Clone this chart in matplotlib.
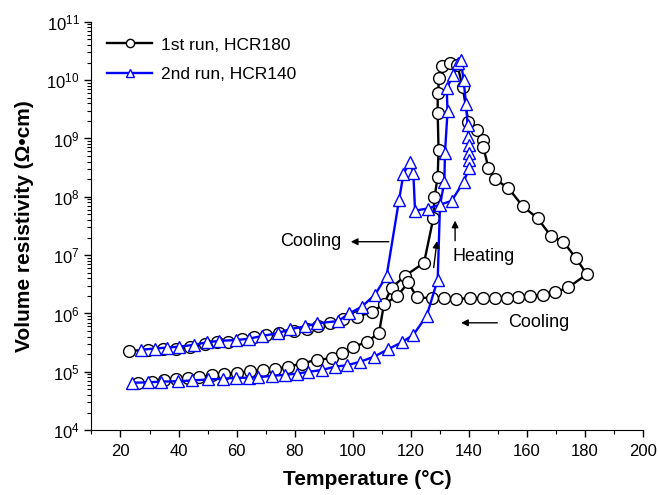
import numpy as np
import matplotlib
matplotlib.use("Agg")
import matplotlib.pyplot as plt

plt.rcParams['font.family'] = ['Liberation Sans', 'DejaVu Sans']
plt.rcParams['mathtext.fontset'] = 'custom'
plt.rcParams['mathtext.rm'] = 'Liberation Sans'
plt.rcParams['font.size'] = 12

# === 1st run, HCR180 ===
t1_heat = [26.1, 30.7, 34.9, 39.3, 43.3, 47.1, 51.4, 55.6, 60.0, 64.6, 69.0, 73.2,
           77.8, 82.4, 87.8, 92.8, 96.2, 100.2, 104.8, 109.1, 110.8, 113.4, 118.0,
           124.6, 127.8, 128.2, 129.3, 129.6, 129.3, 129.3, 129.9, 130.7, 133.6,
           136.1, 137.9, 139.9, 142.8, 144.8, 145.0, 146.8, 149.1, 153.7, 158.6,
           163.7, 168.4, 172.6, 176.9, 180.7]
r1_heat = [6.5e4, 6.8e4, 7.1e4, 7.4e4, 7.8e4, 8.1e4, 8.7e4, 9.1e4, 9.5e4, 1.02e5, 1.07e5, 1.12e5,
           1.23e5, 1.38e5, 1.62e5, 1.7e5, 2.1e5, 2.7e5, 3.2e5, 4.7e5, 1.45e6, 2.75e6, 4.4e6,
           7.4e6, 4.3e7, 9.8e7, 2.2e8, 6.3e8, 2.75e9, 6.0e9, 1.07e10, 1.74e10, 1.95e10,
           1.8e10, 7.6e9, 1.9e9, 1.4e9, 9.3e8, 7.2e8, 3.1e8, 2.0e8, 1.4e8, 6.9e7,
           4.3e7, 2.1e7, 1.7e7, 8.9e6, 4.7e6]
t1_cool = [174.3, 169.8, 165.5, 161.1, 157.1, 153.1, 149.1, 144.8, 140.4, 135.6, 131.4,
           127.2, 122.1, 119.2, 115.4, 106.6, 101.6, 96.8, 92.2, 88.1, 84.1, 79.8, 74.7,
           70.3, 66.1, 61.7, 57.1, 53.4, 49.1, 44.1, 39.1, 34.7, 29.5, 23.0]
r1_cool = [2.8e6, 2.3e6, 2.1e6, 2.0e6, 1.9e6, 1.86e6, 1.82e6, 1.82e6, 1.82e6, 1.78e6, 1.82e6,
           1.82e6, 1.9e6, 3.4e6, 2.0e6, 1.07e6, 8.7e5, 7.9e5, 6.9e5, 6.0e5, 5.5e5, 5.0e5, 4.7e5,
           4.3e5, 4.0e5, 3.7e5, 3.2e5, 3.2e5, 2.95e5, 2.7e5, 2.5e5, 2.45e5, 2.35e5, 2.3e5]

# === 2nd run, HCR140 ===
t2_heat = [24.1, 29.5, 34.1, 39.9, 44.5, 50.2, 55.2, 59.8, 64.3, 67.4, 72.1, 76.7,
           80.7, 84.7, 89.3, 93.9, 97.9, 102.5, 107.4, 112.3, 116.9, 120.9, 125.5,
           129.3, 130.1, 131.6, 131.8, 132.7, 132.4, 134.7, 136.4, 137.3]
r2_heat = [6.5e4, 6.6e4, 6.8e4, 6.9e4, 7.1e4, 7.4e4, 7.6e4, 7.9e4, 7.9e4, 8.1e4, 8.5e4, 8.9e4,
           9.3e4, 1.0e5, 1.07e5, 1.23e5, 1.29e5, 1.48e5, 1.82e5, 2.45e5, 3.2e5, 4.3e5, 9.1e5,
           3.8e6, 7.2e7, 1.8e8, 5.6e8, 2.9e9, 7.2e9, 1.23e10, 1.95e10, 2.2e10]
t2_cool = [138.2, 139.1, 139.6, 139.9, 140.1, 140.1, 140.2, 140.2, 138.2, 134.1, 125.9,
           121.5, 120.9, 119.8, 117.5, 116.0, 111.7, 107.7, 103.1, 98.8, 95.0, 87.8, 83.6,
           78.4, 74.3, 68.6, 64.3, 59.8, 54.0, 49.7, 45.3, 40.2, 35.9, 31.8, 27.2]
r2_cool = [1.0e10, 3.9e9, 1.7e9, 1.07e9, 7.8e8, 5.6e8, 4.2e8, 3.1e8, 1.8e8, 8.5e7, 6.3e7,
           5.8e7, 2.6e8, 4.0e8, 2.45e8, 8.9e7, 4.4e6, 2.1e6, 1.3e6, 1.0e6, 7.4e5, 6.8e5, 6.0e5,
           5.4e5, 4.6e5, 4.1e5, 3.7e5, 3.5e5, 3.4e5, 3.2e5, 2.9e5, 2.7e5, 2.6e5, 2.5e5, 2.4e5]

t1 = np.concatenate([t1_heat, t1_cool])
r1 = np.concatenate([r1_heat, r1_cool])
t2 = np.concatenate([t2_heat, t2_cool])
r2 = np.concatenate([r2_heat, r2_cool])

fig = plt.figure(figsize=(6.58, 4.95), dpi=100)
ax = fig.add_axes([0.139, 0.131, 0.838, 0.825])

ax.plot(t1, r1, '-o', color='black', lw=1.7, ms=8.5, mfc='white', mec='black', mew=1.0,
        label='1st run, HCR180')
ax.plot(t2, r2, '-^', color='#0000ff', lw=1.7, ms=9, mfc='white', mec='#0000ff', mew=1.0,
        label='2nd run, HCR140')

ax.set_yscale('log')
ax.set_xlim(10, 200)
ax.set_ylim(1e4, 1e11)
ax.set_xticks(np.arange(20, 201, 20))
ax.set_xticks(np.arange(10, 201, 10), minor=True)
ax.set_yticks([10.0**k for k in range(4, 12)])

for s in ['top', 'right']:
    ax.spines[s].set_visible(False)
ax.tick_params(which='major', direction='out', length=5, width=1, labelsize=12)
ax.tick_params(which='minor', direction='out', length=3, width=0.8)
ax.tick_params(axis='x', which='major', pad=5)

ax.set_xlabel('Temperature (°C)', fontsize=15, fontweight='bold', labelpad=8)
ax.set_ylabel('Volume resistivity (Ω•cm)', fontsize=15, fontweight='bold', labelpad=9)

leg = ax.legend(loc='upper left', bbox_to_anchor=(0.0, 1.0), frameon=False,
                handlelength=2.6, handletextpad=0.5, labelspacing=0.85, fontsize=12.5,
                markerscale=0.7)

# === Annotations ===
arrow = dict(arrowstyle='-|>', color='black', lw=1.0, mutation_scale=10)
ax.annotate('', xy=(98.4, 10**7.23), xytext=(113.4, 10**7.23), arrowprops=arrow)
ax.text(96.0, 10**7.23, 'Cooling', ha='right', va='center', fontsize=13)

ax.annotate('', xy=(129.2, 10**7.29), xytext=(127.8, 10**6.74), arrowprops=arrow)
ax.annotate('', xy=(135.3, 10**7.64), xytext=(135.3, 10**7.2), arrowprops=arrow)
ax.text(134.5, 10**6.97, 'Heating', ha='left', va='center', fontsize=13)

ax.annotate('', xy=(136.4, 10**5.84), xytext=(150.8, 10**5.84), arrowprops=arrow)
ax.text(153.6, 10**5.84, 'Cooling', ha='left', va='center', fontsize=13)

plt.savefig('out.png', dpi=100)
